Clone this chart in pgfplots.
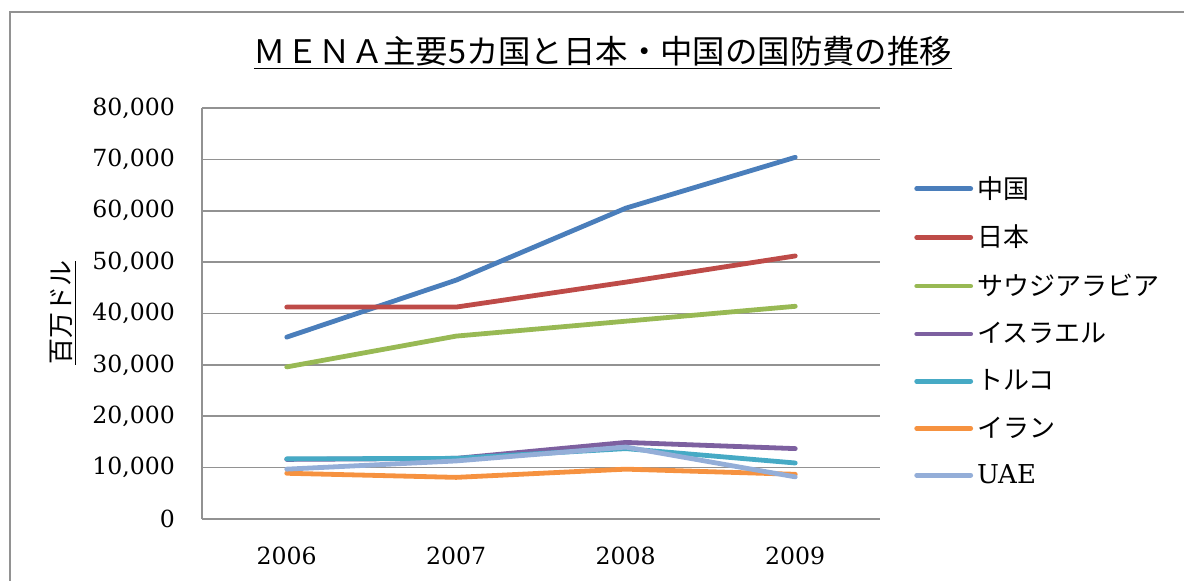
\documentclass[border=0pt]{standalone}
\usepackage{pgfplots}
\pgfplotsset{compat=1.18}
\usepackage{fontspec}
\setmainfont{DejaVu Serif}
\newfontfamily\jp{Noto Sans CJK JP}
\definecolor{cChina}{HTML}{4A7EBB}
\definecolor{cJapan}{HTML}{BE4B48}
\definecolor{cSaudi}{HTML}{98B954}
\definecolor{cIsrael}{HTML}{7D60A0}
\definecolor{cTurkey}{HTML}{46AAC5}
\definecolor{cIran}{HTML}{F69240}
\definecolor{cUAE}{HTML}{94AED8}
\definecolor{cGrid}{HTML}{929292}
\begin{document}
\begin{tikzpicture}
\path[use as bounding box] (0pt,0pt) rectangle (592pt,290.5pt);
\draw[cGrid, line width=1pt] (5pt,-3pt) -- (5pt,284.5pt) -- (595pt,284.5pt);
\node[font=\jp\fontsize{16.2}{19}\selectfont] at (301.5pt,264pt) {\underline{ＭＥＮＡ主要5カ国と日本・中国の国防費の推移}};
\node[font=\jp\fontsize{13}{15}\selectfont, rotate=90] at (31.5pt,134pt) {\underline{百万ドル}};
\begin{axis}[
  at={(101pt,31pt)}, anchor=south west,
  scale only axis, width=339pt, height=205.5pt,
  xmin=-0.5, xmax=3.5, ymin=0, ymax=80000,
  xtick={0,1,2,3}, xticklabels={2006,2007,2008,2009},
  ytick={0,10000,20000,30000,40000,50000,60000,70000,80000},
  scaled y ticks=false,
  yticklabel style={/pgf/number format/1000 sep={,}, /pgf/number format/assume math mode=true},
  ticklabel style={font=\fontsize{11.8}{13}\selectfont},
  yticklabel shift=10pt, xticklabel shift=10.5pt,
  major tick length=0pt,
  axis lines*=left,
  axis line style={cGrid, line width=0.8pt, -},
  ymajorgrids, grid style={cGrid, line width=0.8pt},
  every axis plot/.append style={line width=2.4pt, line join=round, line cap=round, mark=none},
  legend style={at={(axis description cs:1.05,0.457)}, anchor=west, draw=none, fill=none,
    inner sep=0pt, row sep=8pt, font=\fontsize{13}{15}\selectfont},
  legend cell align=left,
  legend image code/.code={\draw[#1] (0pt,0pt) -- (27pt,0pt);},
]
\addplot[cChina] coordinates {(0,35400) (1,46500) (2,60500) (3,70400)};
\addlegendentry{\jp 中国}
\addplot[cJapan] coordinates {(0,41250) (1,41250) (2,46100) (3,51200)};
\addlegendentry{\jp 日本}
\addplot[cSaudi] coordinates {(0,29600) (1,35600) (2,38500) (3,41400)};
\addlegendentry{\jp サウジアラビア}
\addplot[cIsrael] coordinates {(0,11600) (1,11800) (2,14900) (3,13700)};
\addlegendentry{\jp イスラエル}
\addplot[cTurkey] coordinates {(0,11700) (1,11800) (2,13700) (3,10900)};
\addlegendentry{\jp トルコ}
\addplot[cIran] coordinates {(0,8900) (1,8100) (2,9700) (3,8700)};
\addlegendentry{\jp イラン}
\addplot[cUAE] coordinates {(0,9700) (1,11300) (2,14000) (3,8200)};
\addlegendentry{UAE}
\end{axis}
\end{tikzpicture}
\end{document}
